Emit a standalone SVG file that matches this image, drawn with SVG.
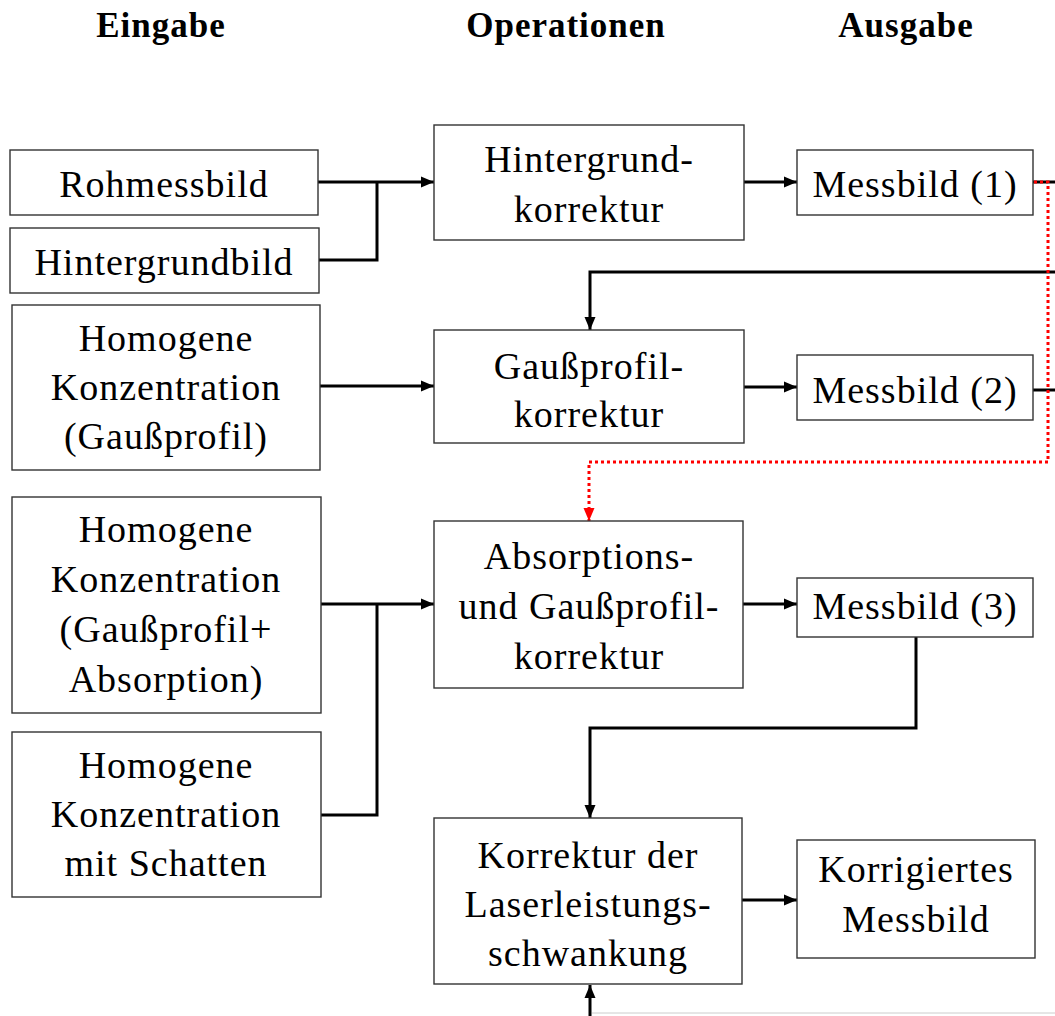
<svg xmlns="http://www.w3.org/2000/svg" width="1055" height="1016" viewBox="0 0 1055 1016">
<style>
.box{fill:#fff;stroke:#333;stroke-width:1.4}
.t{font-family:"Liberation Serif","Times New Roman",serif;font-size:38px;fill:#000;text-anchor:middle;letter-spacing:1px}
.h{font-family:"Liberation Serif","Times New Roman",serif;font-size:35px;font-weight:bold;fill:#000;text-anchor:middle;letter-spacing:1px}
.c{fill:none;stroke:#000;stroke-width:3}
.r{fill:none;stroke:#f00;stroke-width:3;stroke-dasharray:3 3}
</style>
<defs>
<marker id="a" markerUnits="userSpaceOnUse" markerWidth="14" markerHeight="12" refX="13" refY="6" orient="auto"><path d="M0,0.5 L13,6 L0,11.5 z" fill="#000"/></marker>
<marker id="ar" markerUnits="userSpaceOnUse" markerWidth="14" markerHeight="12" refX="13" refY="6" orient="auto"><path d="M0,0.5 L13,6 L0,11.5 z" fill="#f00"/></marker>
</defs>
<rect width="1055" height="1016" fill="#fff"/>
<g id="headers">
<text class="h" x="161" y="37">Eingabe</text>
<text class="h" x="566" y="37">Operationen</text>
<text class="h" x="906" y="37">Ausgabe</text>
</g>
<g id="connectors">
<path class="c" d="M318,182 H434" marker-end="url(#a)"/>
<path class="c" d="M319,260 H377 V182"/>
<path class="c" d="M744,182 H797" marker-end="url(#a)"/>
<path class="c" d="M1033,182 H1055"/>
<path class="c" d="M1055,272 H590 V330" marker-end="url(#a)"/>
<path class="c" d="M320,386 H434" marker-end="url(#a)"/>
<path class="c" d="M744,387 H797" marker-end="url(#a)"/>
<path class="c" d="M1033,390 H1055"/>
<path class="r" d="M1034,182 H1048 V462 H589 V521" marker-end="url(#ar)"/>
<path class="c" d="M321,604 H434" marker-end="url(#a)"/>
<path class="c" d="M321,815 H377 V604"/>
<path class="c" d="M743,604 H797" marker-end="url(#a)"/>
<path class="c" d="M916,637 V728 H590 V818" marker-end="url(#a)"/>
<path class="c" d="M742,900 H797" marker-end="url(#a)"/>
<path class="c" d="M590,1016 V985" marker-end="url(#a)"/>
<path d="M592,1013 H1055" fill="none" stroke="#ccc" stroke-width="1"/>
</g>
<g id="n-rohmessbild"><rect class="box" x="10" y="150" width="308" height="65"/><text class="t" x="164" y="197">Rohmessbild</text></g>
<g id="n-hintergrundbild"><rect class="box" x="10" y="228" width="309" height="65"/><text class="t" x="164" y="275">Hintergrundbild</text></g>
<g id="n-homogen1"><rect class="box" x="12" y="305" width="308" height="165"/><text class="t" x="166" y="351">Homogene</text><text class="t" x="166" y="400">Konzentration</text><text class="t" x="166" y="449">(Gaußprofil)</text></g>
<g id="n-homogen2"><rect class="box" x="12" y="497" width="309" height="216"/><text class="t" x="166" y="542">Homogene</text><text class="t" x="166" y="592">Konzentration</text><text class="t" x="166" y="642">(Gaußprofil+</text><text class="t" x="166" y="692">Absorption)</text></g>
<g id="n-homogen3"><rect class="box" x="12" y="732" width="309" height="165"/><text class="t" x="166" y="778">Homogene</text><text class="t" x="166" y="827">Konzentration</text><text class="t" x="166" y="876">mit Schatten</text></g>
<g id="n-hgkorr"><rect class="box" x="434" y="125" width="310" height="115"/><text class="t" x="589" y="172">Hintergrund-</text><text class="t" x="589" y="222">korrektur</text></g>
<g id="n-gausskorr"><rect class="box" x="434" y="330" width="310" height="113"/><text class="t" x="589" y="379">Gaußprofil-</text><text class="t" x="589" y="427">korrektur</text></g>
<g id="n-abskorr"><rect class="box" x="434" y="521" width="309" height="167"/><text class="t" x="589" y="569">Absorptions-</text><text class="t" x="589" y="619">und Gaußprofil-</text><text class="t" x="589" y="669">korrektur</text></g>
<g id="n-laserkorr"><rect class="box" x="434" y="818" width="308" height="166"/><text class="t" x="588" y="868">Korrektur der</text><text class="t" x="588" y="917">Laserleistungs-</text><text class="t" x="588" y="966">schwankung</text></g>
<g id="n-mb1"><rect class="box" x="797" y="150" width="236" height="65"/><text class="t" x="915" y="197">Messbild (1)</text></g>
<g id="n-mb2"><rect class="box" x="797" y="355" width="236" height="65"/><text class="t" x="915" y="403">Messbild (2)</text></g>
<g id="n-mb3"><rect class="box" x="797" y="578" width="236" height="59"/><text class="t" x="915" y="619">Messbild (3)</text></g>
<g id="n-korr"><rect class="box" x="797" y="840" width="238" height="118"/><text class="t" x="916" y="882">Korrigiertes</text><text class="t" x="916" y="932">Messbild</text></g>
</svg>
